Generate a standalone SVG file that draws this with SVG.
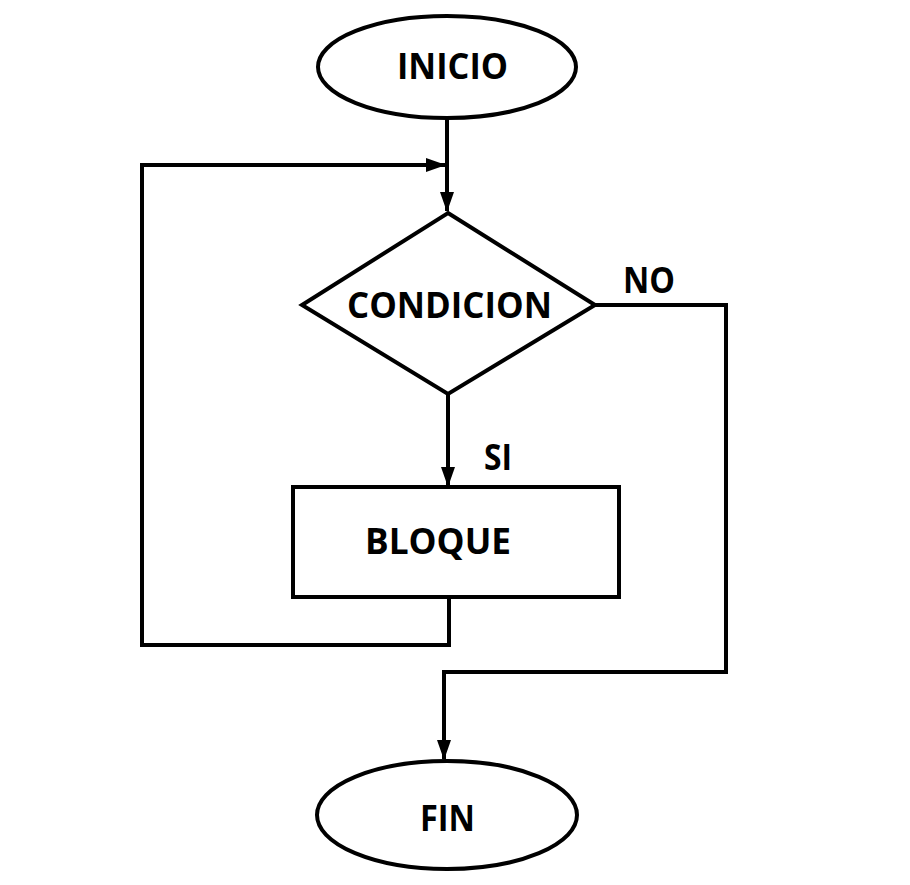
<svg xmlns="http://www.w3.org/2000/svg" width="910" height="885" viewBox="0 0 910 885">
<style>
.shape{fill:#fff;stroke:#000;stroke-width:4}
.line{fill:none;stroke:#000;stroke-width:4;stroke-linejoin:miter}
.t{font-family:"Open Sans","Liberation Sans",sans-serif;font-weight:bold;font-size:36px;fill:#000}
</style>
<defs>
<marker id="arrB" markerWidth="20" markerHeight="16" refX="19" refY="8" orient="auto" markerUnits="userSpaceOnUse" viewBox="0 0 20 16">
<path d="M0,1 L20,8 L0,15 Z" fill="#000"/>
</marker>
</defs>
<rect width="910" height="885" fill="#fff"/>
<g id="connectors">
<path class="line" d="M447,118 V211" marker-end="url(#arrB)"/>
<path class="line" d="M448,395 V486" marker-end="url(#arrB)"/>
<path class="line" d="M449,597 V645 H142 V165 H445" marker-end="url(#arrB)"/>
<path class="line" d="M595,305 H726 V672 H444 V759" marker-end="url(#arrB)"/>
</g>
<g id="inicio">
<ellipse class="shape" cx="447" cy="67" rx="129" ry="51"/>
<text class="t" x="397" y="79" textLength="111" lengthAdjust="spacingAndGlyphs">INICIO</text>
</g>
<g id="condicion">
<polygon class="shape" points="448,213 595,305 448,394 302,305"/>
<text class="t" x="347" y="318" textLength="205" lengthAdjust="spacingAndGlyphs">CONDICION</text>
</g>
<g id="no-label">
<text class="t" x="623" y="293" textLength="52" lengthAdjust="spacingAndGlyphs">NO</text>
</g>
<g id="si-label">
<text class="t" x="484" y="470" textLength="28" lengthAdjust="spacingAndGlyphs">SI</text>
</g>
<g id="bloque">
<rect class="shape" x="293" y="487" width="326" height="110"/>
<text class="t" x="365" y="554" textLength="146" lengthAdjust="spacingAndGlyphs">BLOQUE</text>
</g>
<g id="fin">
<ellipse class="shape" cx="447" cy="815" rx="130" ry="54"/>
<text class="t" x="420" y="831" textLength="55" lengthAdjust="spacingAndGlyphs">FIN</text>
</g>
</svg>
